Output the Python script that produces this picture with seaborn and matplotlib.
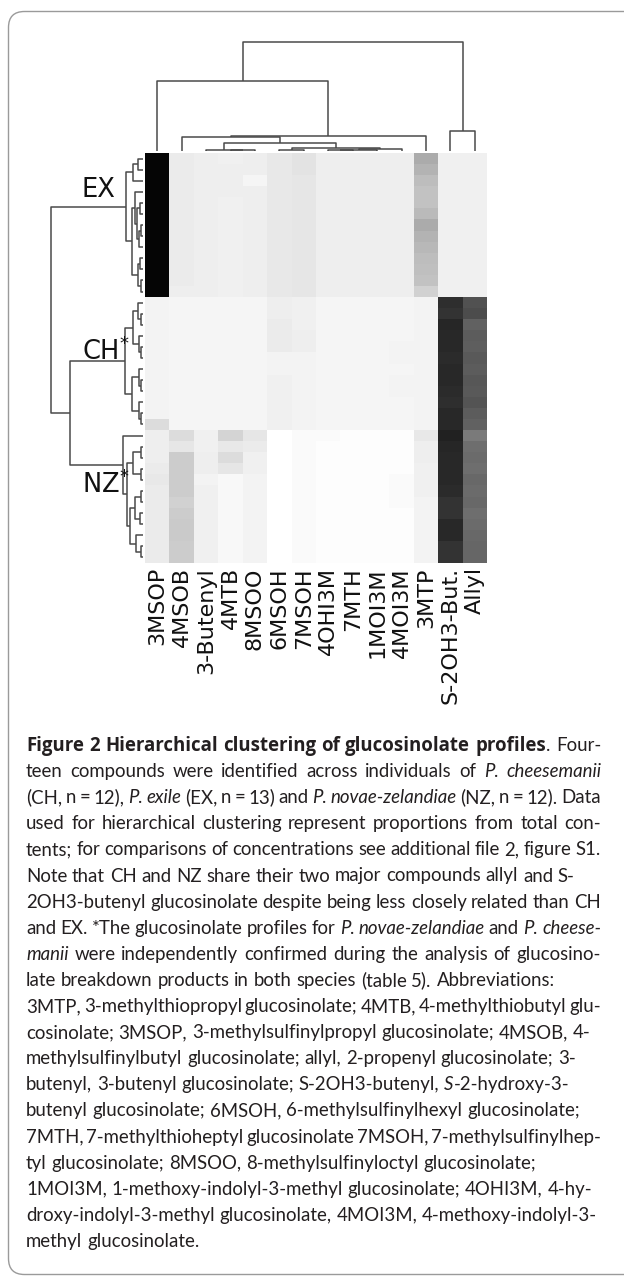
import numpy as np
import pandas as pd
import seaborn as sns
import matplotlib
matplotlib.use("Agg")
import matplotlib.pyplot as plt
from matplotlib.colors import LinearSegmentedColormap
from matplotlib.patches import FancyBboxPatch

# ---------------- data ----------------
compounds = ["3MSOP", "4MSOB", "3-Butenyl", "4MTB", "8MSOO", "6MSOH", "7MSOH",
             "4OHI3M", "7MTH", "1MOI3M", "4MOI3M", "3MTP", "S-2OH3-But.", "Allyl"]

# relative proportions (0-100 shading scale), one row per individual
ex_values = [
    [98, 8, 7, 6, 7, 9, 11, 7, 7, 7, 7, 33, 6, 6],
    [98, 8, 7, 7, 7, 9, 11, 7, 7, 7, 7, 30, 6, 6],
    [98, 8, 7, 7, 4, 9, 10, 7, 7, 7, 7, 26, 6, 6],
    [98, 8, 7, 7, 7, 9, 10, 7, 7, 7, 7, 24, 6, 6],
    [98, 8, 7, 6, 7, 9, 10, 7, 7, 7, 7, 24, 6, 6],
    [98, 8, 7, 6, 7, 9, 10, 7, 7, 7, 7, 27, 6, 6],
    [98, 8, 7, 6, 7, 9, 10, 7, 7, 7, 7, 33, 6, 6],
    [98, 8, 7, 6, 7, 9, 10, 7, 7, 7, 7, 30, 6, 6],
    [98, 8, 7, 6, 7, 9, 10, 7, 7, 7, 7, 28, 6, 6],
    [98, 8, 7, 6, 7, 9, 10, 7, 7, 7, 7, 26, 6, 6],
    [98, 8, 7, 6, 7, 9, 10, 7, 7, 7, 7, 25, 6, 6],
    [98, 8, 7, 6, 7, 9, 10, 7, 7, 7, 7, 24, 6, 6],
    [98, 7, 7, 6, 7, 9, 10, 7, 7, 7, 7, 18, 6, 6],
]
ch_values = [
    [5, 4, 4, 4, 4, 7, 6, 4, 4, 4, 4, 5, 82, 68],
    [5, 4, 4, 4, 4, 7, 6, 4, 4, 4, 4, 5, 80, 70],
    [5, 4, 4, 4, 4, 8, 6, 4, 4, 4, 4, 5, 85, 62],
    [5, 4, 4, 4, 4, 8, 7, 4, 4, 4, 4, 5, 84, 64],
    [5, 4, 4, 4, 4, 8, 7, 4, 4, 4, 5, 5, 84, 63],
    [5, 4, 4, 4, 4, 5, 5, 4, 4, 4, 5, 5, 83, 65],
    [5, 4, 4, 4, 4, 5, 5, 4, 4, 4, 4, 5, 84, 64],
    [5, 4, 4, 4, 4, 6, 5, 4, 4, 4, 5, 5, 84, 66],
    [5, 4, 4, 4, 4, 6, 5, 4, 4, 4, 5, 5, 83, 65],
    [5, 4, 4, 4, 4, 6, 5, 4, 4, 4, 4, 5, 82, 67],
    [5, 4, 4, 4, 4, 6, 5, 4, 4, 4, 4, 5, 84, 64],
    [14, 4, 4, 4, 4, 6, 5, 4, 4, 4, 4, 5, 84, 62],
]
nz_values = [
    [7, 14, 6, 17, 10, 0, 2, 2, 1, 1, 1, 9, 87, 52],
    [7, 10, 6, 9, 8, 0, 2, 1, 1, 1, 1, 7, 85, 57],
    [7, 20, 7, 14, 6, 0, 2, 1, 1, 1, 1, 7, 84, 58],
    [8, 20, 7, 10, 6, 0, 2, 1, 1, 1, 1, 6, 84, 57],
    [9, 20, 5, 3, 5, 0, 2, 1, 1, 1, 2, 6, 84, 59],
    [8, 20, 6, 3, 5, 0, 2, 1, 1, 1, 2, 6, 83, 58],
    [8, 18, 6, 3, 5, 0, 2, 1, 1, 1, 2, 5, 80, 59],
    [8, 20, 6, 3, 5, 0, 2, 1, 1, 1, 1, 5, 80, 57],
    [8, 21, 6, 3, 5, 0, 2, 1, 1, 1, 1, 5, 84, 58],
    [8, 21, 6, 3, 5, 0, 2, 1, 1, 1, 1, 5, 84, 59],
    [8, 20, 6, 3, 5, 0, 2, 1, 1, 1, 1, 5, 80, 60],
    [8, 20, 6, 3, 5, 0, 2, 1, 1, 1, 1, 5, 80, 60],
]
group_names = ["EX", "CH", "NZ"]
group_labels = ["EX", "CH$^{*}$", "NZ$^{*}$"]

# dendrogram merges: (child a, child b, height); ids >= n are earlier merges
col_linkage = [
    (3, 4, 1.0), (2, 14, 1.5), (5, 6, 1.0), (7, 8, 1.0), (17, 9, 1.5),
    (18, 10, 2.0), (16, 19, 3.0), (15, 20, 8.0), (1, 21, 14.5), (22, 11, 15.0),
    (0, 23, 70.0), (12, 13, 20.0), (24, 25, 109.0),
]
row_linkage = [
    (0, 1, 6), (37, 2, 12), (4, 5, 4), (6, 7, 3), (40, 8, 5), (39, 41, 7),
    (3, 42, 10), (9, 10, 4), (11, 12, 3), (44, 45, 6), (43, 46, 13), (38, 47, 21),
    (14, 15, 3), (13, 49, 6), (17, 18, 3), (16, 51, 5), (50, 52, 12),
    (20, 21, 3), (19, 54, 5), (23, 24, 3), (22, 56, 5), (55, 57, 13), (53, 58, 22),
    (26, 27, 3), (28, 29, 3), (60, 61, 12), (30, 31, 3), (32, 33, 4), (63, 64, 10),
    (35, 36, 3), (34, 66, 9), (65, 67, 16), (62, 68, 20), (25, 69, 24),
    (59, 70, 88), (48, 71, 112),
]

caption_lines = [
    ([("Figure 2 Hierarchical clustering of glucosinolate profiles", "b"), (". Four-", "n")], True),
    ([("teen compounds were identified across individuals of ", "n"), ("P. cheesemanii", "i")], True),
    ([("(CH, n = 12), ", "n"), ("P. exile", "i"), (" (EX, n = 13) and ", "n"),
      ("P. novae-zelandiae", "i"), (" (NZ, n = 12). Data", "n")], True),
    ([("used for hierarchical clustering represent proportions from total con-", "n")], True),
    ([("tents; for comparisons of concentrations see additional file 2, figure S1.", "n")], True),
    ([("Note that CH and NZ share their two major compounds allyl and S-", "n")], False),
    ([("2OH3-butenyl glucosinolate despite being less closely related than CH", "n")], True),
    ([("and EX. *The glucosinolate profiles for ", "n"), ("P. novae-zelandiae", "i"),
      (" and ", "n"), ("P. cheese-", "i")], True),
    ([("manii", "i"), (" were independently confirmed during the analysis of glucosino-", "n")], True),
    ([("late breakdown products in both species (table 5). Abbreviations:", "n")], False),
    ([("3MTP, 3-methylthiopropyl glucosinolate; 4MTB, 4-methylthiobutyl glu-", "n")], True),
    ([("cosinolate; 3MSOP, 3-methylsulfinylpropyl glucosinolate; 4MSOB, 4-", "n")], False),
    ([("methylsulfinylbutyl glucosinolate; allyl, 2-propenyl glucosinolate; 3-", "n")], False),
    ([("butenyl, 3-butenyl glucosinolate; S-2OH3-butenyl, ", "n"), ("S", "i"), ("-2-hydroxy-3-", "n")], False),
    ([("butenyl glucosinolate; 6MSOH, 6-methylsulfinylhexyl glucosinolate;", "n")], False),
    ([("7MTH, 7-methylthioheptyl glucosinolate 7MSOH, 7-methylsulfinylhep-", "n")], True),
    ([("tyl glucosinolate; 8MSOO, 8-methylsulfinyloctyl glucosinolate;", "n")], False),
    ([("1MOI3M, 1-methoxy-indolyl-3-methyl glucosinolate; 4OHI3M, 4-hy-", "n")], False),
    ([("droxy-indolyl-3-methyl glucosinolate, 4MOI3M, 4-methoxy-indolyl-3-", "n")], False),
    ([("methyl glucosinolate.", "n")], False),
]

# ---------------- layout ----------------
W, H = 624, 1279
fig = plt.figure(figsize=(W / 100, H / 100), dpi=100)
fig.patch.set_facecolor("white")


def fx(px):
    return px / W


def fy(py):
    return 1 - py / H


HM_L, HM_R, HM_T, HM_B = 145, 487, 153, 563

# background frame
ax_bg = fig.add_axes([0, 0, 1, 1], zorder=-5)
ax_bg.set_xlim(0, W)
ax_bg.set_ylim(H, 0)
ax_bg.axis("off")
ax_bg.add_patch(FancyBboxPatch((8.5, 11.5), 700, 1263, boxstyle="round,pad=0,rounding_size=16",
                               fill=False, ec="#9a9a9a", lw=1.0))

# heatmap
rows = [f"{g}{i + 1}" for g, vals in zip(group_names, [ex_values, ch_values, nz_values])
        for i in range(len(vals))]
df = pd.DataFrame(ex_values + ch_values + nz_values, index=rows, columns=compounds)
cmap = LinearSegmentedColormap.from_list("wb", ["#ffffff", "#000000"])
ax_hm = fig.add_axes([fx(HM_L), fy(HM_B), (HM_R - HM_L) / W, (HM_B - HM_T) / H])
sns.heatmap(df, ax=ax_hm, cmap=cmap, vmin=0, vmax=100, cbar=False,
            xticklabels=compounds, yticklabels=False, linewidths=0)
ax_hm.tick_params(axis="x", length=0, pad=3, labelsize=16, labelrotation=90,
                  labelcolor="#111111")
ax_hm.set_xlabel("")
ax_hm.set_ylabel("")


def dendro(ax, linkage, n, orient):
    pos = {i: i + 0.5 for i in range(n)}
    hgt = {i: 0.0 for i in range(n)}
    for k, (a, b, h) in enumerate(linkage):
        xs = [pos[a], pos[a], pos[b], pos[b]]
        ys = [hgt[a], h, h, hgt[b]]
        if orient == "top":
            ax.plot(xs, ys, color="#4a4a4a", lw=1.1, solid_capstyle="butt")
        else:
            ax.plot(ys, xs, color="#4a4a4a", lw=1.1, solid_capstyle="butt")
        pos[n + k] = (pos[a] + pos[b]) / 2
        hgt[n + k] = h


n_cols = len(compounds)
n_rows = len(rows)

ax_top = fig.add_axes([fx(HM_L), fy(HM_T), (HM_R - HM_L) / W, (HM_T - 30) / H])
dendro(ax_top, col_linkage, n_cols, "top")
ax_top.set_xlim(0, n_cols)
ax_top.set_ylim(-2, HM_T - 30 - 2)
ax_top.axis("off")

LEFT_PX = 40
ROW_SCALE = 0.824  # px per height unit
ax_left = fig.add_axes([fx(LEFT_PX), fy(HM_B), (HM_L - LEFT_PX) / W, (HM_B - HM_T) / H])
dendro(ax_left, row_linkage, n_rows, "left")
ax_left.set_ylim(n_rows, 0)
ax_left.set_xlim((HM_L - 2 - LEFT_PX) / ROW_SCALE, -2 / ROW_SCALE)
ax_left.axis("off")

# group labels
for lab, base in zip(group_labels, [197, 360, 493]):
    fig.text(fx(82), fy(base), lab, ha="left", va="baseline", fontsize=18.5,
             color="#111111", family="DejaVu Sans")

# ---------------- caption ----------------
CAP_FONT = "Lato"
STYLE = {"n": {"family": CAP_FONT},
         "b": {"family": "Open Sans", "fontweight": "bold"},
         "i": {"family": CAP_FONT, "fontstyle": "italic"}}
renderer = fig.canvas.get_renderer()
X0, X1 = 26, 601
BASE0, STEP = 751, 26.1


def words_of(segments):
    words = [[]]
    for text, st in segments:
        parts = text.split(" ")
        for j, p in enumerate(parts):
            if j > 0:
                words.append([])
            if p:
                words[-1].append((p, st))
    return [w for w in words if w]


def measure(s, st, size):
    t = fig.text(0, 0, s, fontsize=size, **STYLE[st])
    w = t.get_window_extent(renderer).width
    t.remove()
    return w


def natural_width(words, size):
    sp = measure("a a", "n", size) - measure("aa", "n", size)
    return sum(measure(c, st, size) for w in words for c, st in w) + sp * (len(words) - 1)


parsed = [(words_of(seg), just) for seg, just in caption_lines]
ref = 10.0
fits = sorted(ref * (X1 - X0) / natural_width(w, ref) for w, j in parsed if j)
size = min(14.0, fits[len(fits) // 2])
space = measure("a a", "n", size) - measure("aa", "n", size)

for k, (words, just) in enumerate(parsed):
    ybase = BASE0 + k * STEP
    widths = [[measure(c, st, size) for c, st in w] for w in words]
    total = sum(sum(ws) for ws in widths)
    if just and len(words) > 1:
        gap = max(0.45 * space, (X1 - X0 - total) / (len(words) - 1))
    else:
        gap = space
    x = X0
    for w, ws in zip(words, widths):
        for (c, st), cw in zip(w, ws):
            fig.text(fx(x), fy(ybase), c, fontsize=size, color="#231f20",
                     va="baseline", ha="left", **STYLE[st])
            x += cw
        x += gap

fig.savefig("out.png", dpi=100)
